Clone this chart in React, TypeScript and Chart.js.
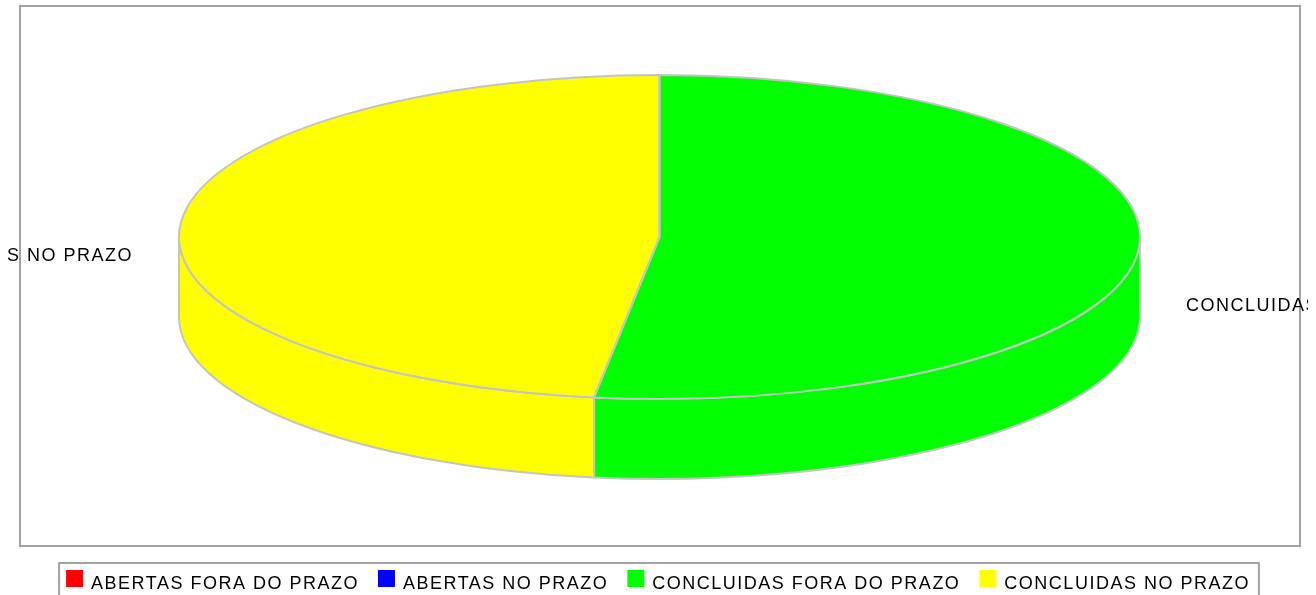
import React, { useEffect, useRef } from "react";
import { Chart, registerables } from "chart.js";

Chart.register(...registerables);

const categories = ["ABERTAS FORA DO PRAZO", "ABERTAS NO PRAZO", "CONCLUIDAS FORA DO PRAZO", "CONCLUIDAS NO PRAZO"];
const values = [0, 0, 12, 11];
const colors = ["#ff0000", "#0000ff", "#00ff00", "#ffff00"];

const FONT = '18px "Liberation Sans"';
const SPACING = "1.5px";
const EDGE = "#c4c4c4";
const FRAME = "#a2a2a2";
const INK = "#000000";
const CX = 659.5, CY = 237, RX = 480.5, RY = 162, DEPTH = 80;

const pie3d = {
  id: "pie3d",
  beforeLayout(chart: any) {
    chart.ctx.letterSpacing = SPACING;
  },
  afterLayout(chart: any) {
    chart.legend.top = 556;
    chart.legend.bottom = 650;
  },
  beforeDraw(chart: any) {
    const ctx = chart.ctx;
    ctx.letterSpacing = SPACING;
    ctx.save();
    ctx.fillStyle = "#ffffff";
    ctx.fillRect(0, 0, chart.width, chart.height);
    ctx.strokeStyle = FRAME;
    ctx.lineWidth = 2;
    ctx.strokeRect(20, 6, 1280, 540);
    ctx.restore();
  },
  beforeDatasetsDraw(chart: any) {
    const ctx = chart.ctx;
    const arcs = chart.getDatasetMeta(0).data;
    ctx.save();
    ctx.lineWidth = 2;
    ctx.strokeStyle = EDGE;
    ctx.lineJoin = "round";
    arcs.forEach((arc: any, i: number) => {
      const s = Math.max(arc.startAngle, 0);
      const e = Math.min(arc.endAngle, Math.PI);
      if (e <= s) return;
      ctx.beginPath();
      ctx.ellipse(CX, CY, RX, RY, 0, s, e);
      ctx.ellipse(CX, CY + DEPTH, RX, RY, 0, e, s, true);
      ctx.closePath();
      ctx.fillStyle = colors[i];
      ctx.fill();
      ctx.stroke();
    });
    ctx.restore();
    const a = arcs[0];
    ctx.save();
    ctx.translate(CX, CY);
    ctx.scale(RX / a.outerRadius, RY / a.outerRadius);
    ctx.translate(-a.x, -a.y);
  },
  afterDatasetsDraw(chart: any) {
    const ctx = chart.ctx;
    ctx.restore();
    ctx.save();
    ctx.lineWidth = 2;
    ctx.strokeStyle = EDGE;
    ctx.lineJoin = "round";
    chart.getDatasetMeta(0).data.forEach((arc: any) => {
      if (arc.endAngle - arc.startAngle <= 0) return;
      ctx.beginPath();
      ctx.moveTo(CX, CY);
      ctx.ellipse(CX, CY, RX, RY, 0, arc.startAngle, arc.endAngle);
      ctx.closePath();
      ctx.stroke();
    });
    ctx.restore();
  },
  afterDraw(chart: any) {
    const ctx = chart.ctx;
    const boxes = chart.legend.legendHitBoxes;
    const items = chart.legend.legendItems;
    ctx.save();
    boxes.forEach((b: any, i: number) => {
      ctx.fillStyle = items[i].fillStyle;
      ctx.fillRect(b.left, 570, 17, 17);
    });
    const last = boxes[boxes.length - 1];
    ctx.strokeStyle = FRAME;
    ctx.lineWidth = 2;
    ctx.strokeRect(boxes[0].left - 7, 563, last.left + last.width + 9 - (boxes[0].left - 7), 60);

    ctx.beginPath();
    ctx.rect(8, 0, 1300, chart.height);
    ctx.clip();
    ctx.font = FONT;
    ctx.fillStyle = INK;
    ctx.textBaseline = "middle";
    ctx.textAlign = "right";
    ctx.fillText(categories[3], 133, 256);
    ctx.textAlign = "left";
    ctx.fillText(categories[2], 1186, 306);
    ctx.restore();
  },
};

export default function App() {
  const ref = useRef<HTMLCanvasElement>(null);
  useEffect(() => {
    document.body.style.margin = "0";
    document.body.style.overflow = "hidden";
    const chart = new Chart(ref.current!, {
      type: "pie",
      data: {
        labels: categories,
        datasets: [{ data: values, backgroundColor: colors, borderWidth: 0, clip: false as any }],
      },
      options: {
        responsive: false,
        animation: false,
        plugins: {
          tooltip: { enabled: false },
          legend: {
            display: true,
            position: "bottom",
            labels: {
              font: { family: '"Liberation Sans"', size: 18 },
              color: INK,
              boxWidth: 16,
              boxHeight: 0,
              padding: 19,
            },
          },
        },
      },
      plugins: [pie3d],
    });
    return () => chart.destroy();
  }, []);
  return (
    <canvas
      ref={ref}
      width={1316}
      height={595}
      style={{ display: "block", width: 1316, height: 595, filter: "blur(0.6px)" }}
    />
  );
}
